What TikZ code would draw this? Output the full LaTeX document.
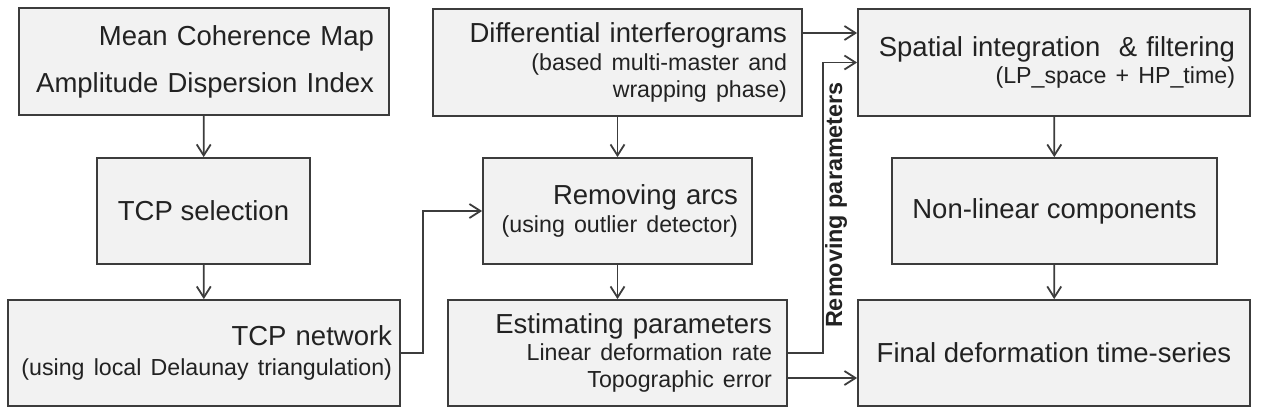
\documentclass[tikz,border=0pt]{standalone}
\usepackage{fontspec}
\setmainfont{Liberation Sans}
\usetikzlibrary{arrows.meta,calc}
\definecolor{edge}{HTML}{3C3C3C}
\definecolor{boxfill}{HTML}{F2F2F2}
\definecolor{ink}{HTML}{222222}
\newcommand{\smalltxt}[1]{\mbox{\fontsize{11.6}{13.6}\selectfont #1}}

\begin{document}
\begin{tikzpicture}[x=0.5pt,y=-0.5pt,
    stage/.style={draw=edge,fill=boxfill,line width=0.9pt,text=ink,
      font=\fontsize{13.75}{13.6}\selectfont,inner ysep=2pt},
    stager/.style={stage,align=right,inner xsep=7.5pt},
    stagec/.style={stage,align=center,minimum height=53pt},
    flow/.style={draw=edge,line width=0.9pt,-{Straight Barb[length=5.5pt,width=7pt]}}]
        \useasboundingbox (0,0) rectangle (1262,408);
        % left column
        \node[stager,text width=170pt,minimum height=53.5pt] (coh) at (204,61.5)
          {Mean Coherence Map\\[9.9pt] Amplitude Dispersion Index};
        \node[stagec,minimum width=106.5pt] (sel) at (203.5,211) {TCP selection};
        \node[stager,text width=188pt,inner xsep=4pt,minimum height=53pt] (net) at (204,353)
          {TCP network\\[1.5pt] \smalltxt{(using local Delaunay triangulation)}};
        % middle column
        \node[stager,text width=169.5pt,minimum height=53.5pt] (ifg) at (617.5,62.5)
          {Differential interferograms\\ \smalltxt{(based multi-master and}\\ \smalltxt{wrapping phase)}};
        \node[stager,text width=120.5pt,inner xsep=7pt,minimum height=53pt] (arcs) at (617.5,211)
          {Removing arcs\\ \smalltxt{(using outlier detector)}};
        \node[stager,text width=154.5pt,minimum height=53pt] (est) at (617.5,353)
          {Estimating parameters\\ \smalltxt{Linear deformation rate}\\ \smalltxt{Topographic error}};
        % right column
        \node[stager,text width=181pt,minimum height=53.5pt] (filt) at (1054,62.5)
          {Spatial integration\ \ \& filtering\\ \smalltxt{(LP\_space + HP\_time)}};
        \node[stagec,minimum width=162.5pt] (nonlin) at (1054.5,211) {Non-linear components};
        \node[stagec,minimum width=196pt] (final) at (1054,353) {Final deformation time-series};
        \node[font=\bfseries\fontsize{11.7}{14}\selectfont,text=ink,rotate=90] (rmlbl) at (836,205)
          {Removing parameters};
        % connectors
        \coordinate (jog) at (423,0);
        \coordinate (fb) at (823,0);
        \coordinate (dtop) at ([yshift=14.75pt]ifg.east);
        \coordinate (topo) at ([yshift=-12.5pt]est.east);
        \draw[flow] (coh) -- (sel);
        \draw[flow] (sel) -- (net);
        \draw[flow] (net.east) -| (jog |- arcs.west) -- (arcs.west);
        \draw[flow] (ifg) -- (arcs);
        \draw[flow] (arcs) -- (est);
        \draw[flow] (dtop) -- (dtop -| filt.west);
        \draw[flow] (est.east) -| (fb |- filt.west) -- (filt.west);
        \draw[flow] (topo) -- (topo -| final.west);
        \draw[flow] (filt) -- (nonlin);
        \draw[flow] (nonlin) -- (final);
      \end{tikzpicture}
\end{document}
